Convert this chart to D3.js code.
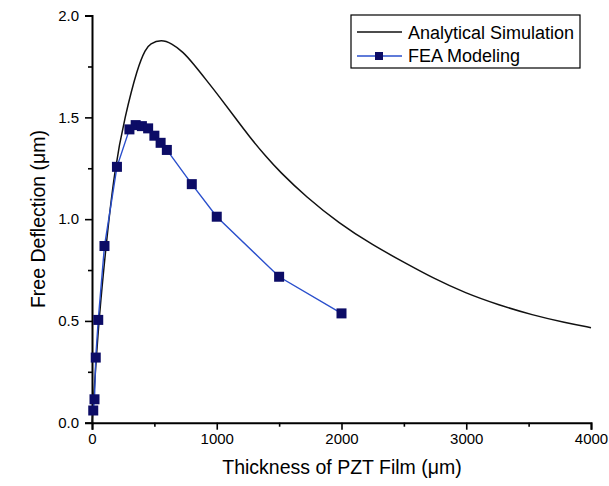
<!DOCTYPE html>
<html>
<head>
<meta charset="utf-8">
<script src="https://cdn.jsdelivr.net/npm/d3@7"></script>
<style>
  body { margin: 0; background: #fff; }
  text { font-family: "Liberation Sans", Arial, sans-serif; fill: #000; }
</style>
</head>
<body>
<svg id="chart" width="609" height="486"></svg>
<script>
// analytical simulation
var anaX = [0, 35, 55, 110, 182, 262, 367, 430, 464, 557, 637, 730, 810, 917, 1022, 1142, 1262, 1395, 1502, 1715, 1982, 2248, 2515, 2728, 2995, 3262, 3528, 3795, 4000];
var anaY = [0, 0.32, 0.50, 0.86, 1.25, 1.50, 1.75, 1.835, 1.862, 1.883, 1.863, 1.822, 1.765, 1.683, 1.601, 1.503, 1.405, 1.307, 1.235, 1.11, 0.979, 0.873, 0.783, 0.712, 0.636, 0.578, 0.529, 0.491, 0.467];

// FEA modeling points
var feaX = [10, 20, 30, 50, 100, 200, 300, 350, 400, 450, 500, 550, 600, 800, 1000, 1500, 2000];
var feaY = [0.06, 0.115, 0.32, 0.505, 0.868, 1.257, 1.441, 1.462, 1.457, 1.446, 1.41, 1.375, 1.34, 1.172, 1.012, 0.717, 0.537];

var xTicks = [0, 1000, 2000, 3000, 4000];
var xMinor = [500, 1500, 2500, 3500];
var yTicks = [0, 0.5, 1.0, 1.5, 2.0];
var yMinor = [0.25, 0.75, 1.25, 1.75];

var seriesNames = ["Analytical Simulation", "FEA Modeling"];

var svg = d3.select("#chart");

var x = d3.scaleLinear().domain([0, 4000]).range([92, 591]);
var y = d3.scaleLinear().domain([0, 2]).range([422.7, 15.6]);

var anaData = anaX.map(function(d, i) { return {x: d, y: anaY[i]}; });
var feaData = feaX.map(function(d, i) { return {x: d, y: feaY[i]}; });

// axes
svg.append("g")
    .attr("transform", "translate(0," + y(0) + ")")
    .call(d3.axisBottom(x).tickValues(xTicks).tickSize(7).tickPadding(4).tickFormat(d3.format("d")));
svg.append("g")
    .attr("transform", "translate(0," + y(0) + ")")
    .call(d3.axisBottom(x).tickValues(xMinor).tickSize(4).tickFormat(""))
    .select(".domain").remove();

svg.append("g")
    .attr("transform", "translate(" + x(0) + ",0)")
    .call(d3.axisLeft(y).tickValues(yTicks).tickSize(7).tickPadding(6).tickFormat(d3.format(".1f")));
svg.append("g")
    .attr("transform", "translate(" + x(0) + ",0)")
    .call(d3.axisLeft(y).tickValues(yMinor).tickSize(4).tickFormat(""))
    .select(".domain").remove();

svg.selectAll(".domain").attr("stroke", "#000").attr("stroke-width", 2);
svg.selectAll(".tick line").attr("stroke", "#000").attr("stroke-width", 1.6);
svg.selectAll(".tick text")
    .attr("font-family", "Liberation Sans, Arial, sans-serif")
    .attr("font-size", 15)
    .attr("fill", "#000");

// axis titles
svg.append("text")
    .attr("x", 342)
    .attr("y", 474)
    .attr("text-anchor", "middle")
    .attr("font-size", 19.5)
    .text("Thickness of PZT Film (\u03bcm)");

svg.append("text")
    .attr("transform", "translate(45,219) rotate(-90)")
    .attr("text-anchor", "middle")
    .attr("font-size", 19.5)
    .text("Free Deflection (\u03bcm)");

// analytical curve
var anaLine = d3.line()
    .x(function(d) { return x(d.x); })
    .y(function(d) { return y(d.y); })
    .curve(d3.curveBasis);

svg.append("path")
    .datum(anaData)
    .attr("d", anaLine)
    .attr("fill", "none")
    .attr("stroke", "#111")
    .attr("stroke-width", 1.5);

// FEA line + markers
var feaLine = d3.line()
    .x(function(d) { return x(d.x); })
    .y(function(d) { return y(d.y); });

svg.append("path")
    .datum(feaData)
    .attr("d", feaLine)
    .attr("fill", "none")
    .attr("stroke", "#2a4fcc")
    .attr("stroke-width", 1.4);

svg.selectAll("rect.fea")
    .data(feaData)
    .enter().append("rect")
    .attr("class", "fea")
    .attr("x", function(d) { return x(d.x) - 5; })
    .attr("y", function(d) { return y(d.y) - 5; })
    .attr("width", 10)
    .attr("height", 10)
    .attr("fill", "#0c0c66");

// legend
var legend = svg.append("g");
legend.append("rect")
    .attr("x", 351)
    .attr("y", 15)
    .attr("width", 229)
    .attr("height", 53)
    .attr("fill", "#fff")
    .attr("stroke", "#000")
    .attr("stroke-width", 1.2);

legend.append("line")
    .attr("x1", 357).attr("x2", 402)
    .attr("y1", 32).attr("y2", 32)
    .attr("stroke", "#111").attr("stroke-width", 1.5);
legend.append("line")
    .attr("x1", 357).attr("x2", 402)
    .attr("y1", 56).attr("y2", 56)
    .attr("stroke", "#2a4fcc").attr("stroke-width", 1.4);
legend.append("rect")
    .attr("x", 375).attr("y", 52)
    .attr("width", 8).attr("height", 8)
    .attr("fill", "#0c0c66");

legend.selectAll("text.leg")
    .data(seriesNames)
    .enter().append("text")
    .attr("class", "leg")
    .attr("x", 408)
    .attr("y", function(d, i) { return 38.5 + i * 23.5; })
    .attr("font-size", 18)
    .text(function(d) { return d; });
</script>
</body>
</html>
